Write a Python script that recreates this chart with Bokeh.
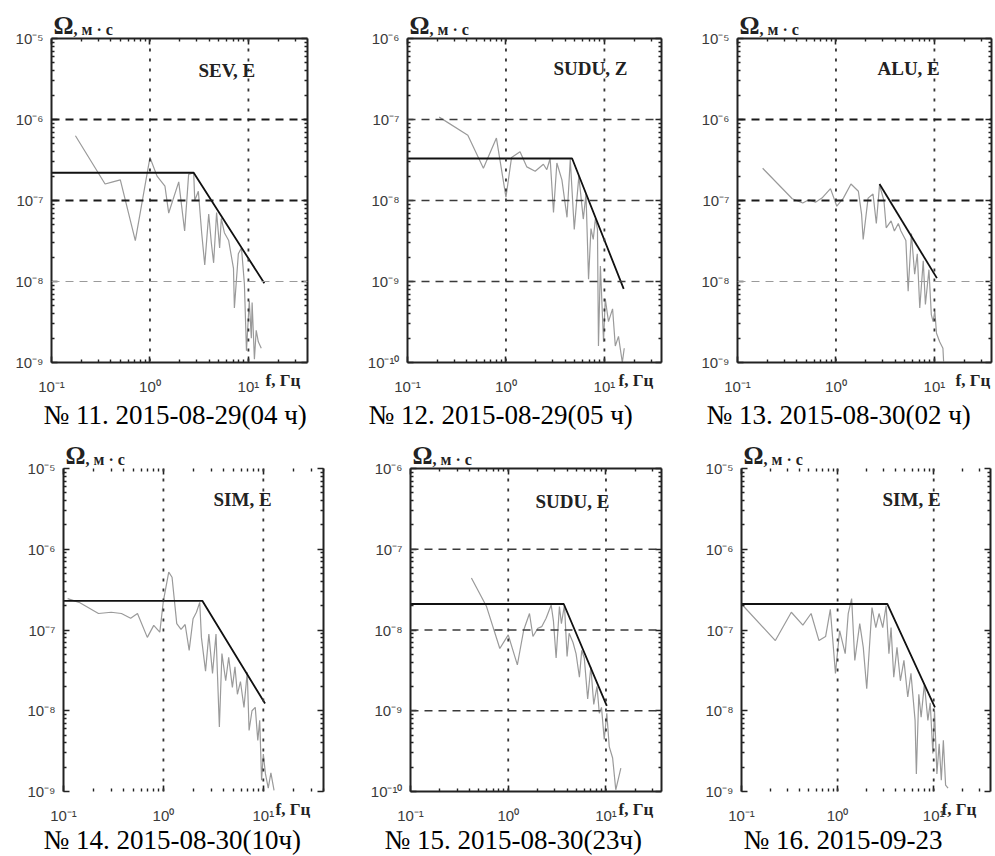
import math
from bokeh.plotting import figure
from bokeh.models import (LogAxis, FixedTicker, CustomJSTickFormatter, Span, Label, Range1d, Title)
from bokeh.layouts import row, column
from bokeh.embed import file_html
from bokeh.resources import INLINE

# ---------------- data ----------------
x_tick_values = [0.1, 1, 10]
x_tick_labels = ["10⁻¹", "10⁰", "10¹"]
y_tick_values_a = [1e-9, 1e-8, 1e-7, 1e-6, 1e-5]
y_tick_labels_a = ["10⁻⁹", "10⁻⁸", "10⁻⁷", "10⁻⁶", "10⁻⁵"]
y_tick_values_b = [1e-10, 1e-9, 1e-8, 1e-7, 1e-6]
y_tick_labels_b = ["10⁻¹⁰", "10⁻⁹", "10⁻⁸", "10⁻⁷", "10⁻⁶"]

stations = ["SEV, E", "SUDU, Z", "ALU, E", "SIM, E", "SUDU, E", "SIM, E"]
captions = ["№ 11. 2015-08-29(04 ч)", "№ 12. 2015-08-29(05 ч)", "№ 13. 2015-08-30(02 ч)",
            "№ 14. 2015-08-30(10ч)", "№ 15. 2015-08-30(23ч)", "№ 16. 2015-09-23"]
y_label_symbol = "Ω"
y_label_unit = ", м · с"
x_label = "f, Гц"

p11_f = [0.175, 0.35, 0.42, 0.50, 0.71, 1.0, 1.18, 1.42, 1.55, 1.96,
         2.25, 2.47, 2.78, 2.85, 3.1, 3.35, 3.6, 3.95, 4.2, 4.43,
         4.75, 5.1, 5.3, 5.7, 6.3, 7.05, 7.2, 7.9, 8.5, 9.1,
         9.55, 10.2, 10.7, 10.9, 11.5, 12.0, 12.6, 13.5]
p11_amp = [6.3e-7, 1.6e-7, 1.7e-7, 1.8e-7, 3.2e-8, 3.4e-7, 2.0e-7, 1.5e-7, 7e-8, 1.7e-7,
           4.2e-8, 2.1e-7, 2.2e-7, 1.0e-7, 1.3e-7, 4.0e-8, 1.6e-8, 6.8e-8, 3.0e-8, 1.7e-8,
           7.1e-8, 2.6e-8, 6.0e-8, 4.0e-8, 3.2e-8, 1.45e-8, 4.7e-9, 2.2e-8, 2.6e-8, 9.3e-9,
           1.4e-9, 5.8e-9, 2.0e-9, 5.5e-9, 1.1e-9, 2.5e-9, 1.8e-9, 1.5e-9]
p11_model_f = [0.1, 2.78, 14.5]
p11_model_amp = [2.2e-7, 2.2e-7, 9.5e-9]

p12_f = [0.21, 0.41, 0.59, 0.80, 1.0, 1.14, 1.39, 1.63, 1.98, 2.4,
         2.6, 2.81, 3.04, 3.29, 3.7, 4.17, 4.5, 4.94, 5.5, 6.1,
         6.5, 6.9, 7.3, 7.7, 8.1, 8.5, 8.7, 9.1, 9.8, 10.2,
         11.0, 12.1, 12.9, 13.9, 15.2, 15.9]
p12_amp = [1.07e-7, 6.4e-8, 2.5e-8, 5.9e-8, 1.1e-8, 3.4e-8, 4.0e-8, 2.6e-8, 2.3e-8, 2.8e-8,
           2.4e-8, 3.3e-8, 7.1e-9, 2.9e-8, 1.8e-8, 6.2e-9, 3.2e-8, 4.4e-9, 2.0e-8, 5.9e-9,
           1.2e-8, 1.07e-9, 4.5e-9, 3.3e-9, 6.0e-9, 4.4e-9, 1.6e-10, 1.55e-9, 1.8e-10, 6.1e-10,
           3.2e-10, 4.6e-10, 1.6e-10, 2.1e-10, 1.0e-10, 1.5e-10]
p12_model_f = [0.1, 4.7, 15.7]
p12_model_amp = [3.3e-8, 3.3e-8, 8.1e-10]

p13_f = [0.18, 0.36, 0.46, 0.53, 0.62, 0.72, 0.88, 1.02, 1.19, 1.42,
         1.69, 1.82, 1.89, 2.12, 2.38, 2.57, 2.77, 3.07, 3.24, 3.63,
         3.92, 4.3, 4.57, 5.13, 5.41, 5.84, 6.3, 6.7, 7.1, 7.7,
         8.1, 8.8, 9.3, 9.7, 10.1, 10.5, 11.3, 12.2, 12.4]
p13_amp = [2.5e-7, 1.05e-7, 9.3e-8, 1.02e-7, 9.5e-8, 1.07e-7, 1.4e-7, 8.5e-8, 1.07e-7, 1.6e-7,
           1.3e-7, 6.8e-8, 3.3e-8, 1.07e-7, 1.2e-7, 5.2e-8, 1.55e-7, 1.0e-7, 4.6e-8, 5.6e-8,
           4.2e-8, 5.2e-8, 4.2e-8, 3.2e-8, 7.6e-9, 3.9e-8, 1.23e-8, 2.2e-8, 4.7e-9, 1.8e-8,
           5.2e-9, 1.4e-8, 3.9e-9, 3.2e-9, 4.3e-9, 2.3e-9, 1.8e-9, 1.5e-9, 1.03e-9]
p13_model_f = [2.77, 10.6]
p13_model_amp = [1.6e-7, 1.1e-8]

p14_f = [0.11, 0.143, 0.224, 0.30, 0.38, 0.47, 0.55, 0.69, 0.80, 0.92,
         1.0, 1.13, 1.22, 1.36, 1.5, 1.65, 1.81, 1.98, 2.14, 2.31,
         2.4, 2.64, 2.85, 3.1, 3.36, 3.63, 3.85, 4.2, 4.5, 4.9,
         5.2, 5.5, 5.9, 6.4, 6.9, 7.2, 7.7, 8.3, 8.8, 9.2,
         9.6, 10.0, 10.5, 11.2, 11.9, 12.8]
p14_amp = [2.45e-7, 2.2e-7, 1.6e-7, 1.66e-7, 1.6e-7, 1.4e-7, 1.6e-7, 8.1e-8, 1.14e-7, 9.4e-8,
           2.3e-7, 5.2e-7, 4.5e-7, 1.2e-7, 1.02e-7, 1.17e-7, 5.6e-8, 1.38e-7, 1.66e-7, 2.2e-7,
           8.1e-8, 3.1e-8, 8.9e-8, 2.9e-8, 8.9e-8, 6.3e-9, 5.1e-8, 2.35e-8, 4.6e-8, 1.95e-8,
           3.5e-8, 1.6e-8, 2.3e-8, 1.1e-8, 3.0e-8, 5.7e-9, 1.0e-8, 1.1e-8, 4.3e-9, 7.6e-9,
           1.38e-9, 2.9e-9, 1.65e-9, 1.1e-9, 1.7e-9, 1.03e-9]
p14_model_f = [0.1, 2.45, 10.4]
p14_model_amp = [2.3e-7, 2.3e-7, 1.23e-8]

p15_f = [0.42, 0.60, 0.82, 1.0, 1.24, 1.44, 1.65, 1.79, 2.01, 2.2,
         2.44, 2.75, 2.9, 3.09, 3.34, 3.5, 3.76, 4.0, 4.2, 4.6,
         4.94, 5.35, 5.65, 6.0, 6.5, 7.0, 7.5, 8.1, 8.55, 9.0,
         9.6, 10.2, 10.8, 11.7, 12.6, 14.2]
p15_amp = [4.4e-8, 1.95e-8, 5.9e-9, 8.7e-9, 3.7e-9, 1e-8, 1.6e-8, 8.3e-9, 1.05e-8, 1.1e-8,
           1.4e-8, 2.04e-8, 1.3e-8, 4.5e-9, 1.95e-8, 1.2e-8, 2.04e-8, 4.7e-9, 9.1e-9, 7e-9,
           5.1e-9, 2.6e-9, 5.6e-9, 4.5e-9, 1.4e-9, 3.5e-9, 1.2e-9, 2e-9, 9.3e-10, 1.1e-9,
           4.4e-10, 9.3e-10, 3.6e-10, 2.6e-10, 1.05e-10, 1.95e-10]
p15_model_f = [0.1, 3.7, 10.2]
p15_model_amp = [2.1e-8, 2.1e-8, 1.15e-9]

p16_f = [0.1, 0.225, 0.33, 0.435, 0.53, 0.64, 0.75, 0.84, 0.95, 1.05,
         1.2, 1.29, 1.4, 1.51, 1.7, 1.85, 2.01, 2.28, 2.5, 2.7,
         2.95, 3.2, 3.42, 3.6, 3.84, 4.15, 4.5, 4.9, 5.37, 5.8,
         6.4, 6.6, 7.0, 7.4, 8.0, 8.7, 9.2, 9.8, 10.2, 10.8,
         11.4, 12.0, 12.6, 13.3, 14.1]
p16_amp = [2.1e-7, 7.4e-8, 1.66e-7, 1.15e-7, 1.6e-7, 7.4e-8, 8.3e-8, 1.8e-7, 2.9e-8, 9.8e-8,
           5.1e-8, 1.6e-7, 2.45e-7, 4.2e-8, 1.2e-7, 6.1e-8, 1.87e-8, 1.9e-7, 1.07e-7, 1.6e-7,
           1.07e-7, 2.0e-7, 5.1e-8, 1.07e-7, 2.6e-8, 6.1e-8, 2.35e-8, 4.2e-8, 1.48e-8, 2.9e-8,
           7.6e-9, 1.65e-9, 1.6e-8, 8.3e-9, 2.15e-8, 7.6e-9, 1.25e-8, 2.95e-9, 1.0e-8, 1.65e-9,
           3.9e-9, 1.38e-9, 4.3e-9, 1.2e-9, 1.1e-9]
p16_model_f = [0.1, 3.29, 10.3]
p16_model_amp = [2.1e-7, 2.1e-7, 1.1e-8]

# ---------------- layout / style (not data) ----------------
SERIF = "Liberation Serif"
SANS = "Liberation Sans"
DARK_DASH = ("#1a1a1a", 2.0, "8 6")
LIGHT_DASH = ("#9a9a9a", 1.2, "8 6")
MID_DASH = ("#3a3a3a", 1.6, "8 6")

R1 = dict(h=437, bt=38, bb=75, cap_s=4)
R2 = dict(h=419, bt=31, bb=65, cap_s=-4)

cfgs = [
    dict(R1, w=357, bl=51, br=50, xmax=39.8, ylab="a",
         hgrid=[(1e-6, DARK_DASH), (1e-7, DARK_DASH), (1e-8, LIGHT_DASH)], edges=True,
         st_dx=147, st_dy=-32, fx=214, cap_dx=-8),
    dict(R1, w=338, bl=50, br=34, xmax=38.0, ylab="b",
         hgrid=[(1e-7, MID_DASH), (1e-8, MID_DASH), (1e-9, MID_DASH)], edges=True,
         st_dx=146, st_dy=-30, fx=211, cap_dx=-39),
    dict(R1, w=299, bl=42, br=3, xmax=38.0, ylab="a",
         hgrid=[(1e-6, DARK_DASH), (1e-7, DARK_DASH), (1e-8, LIGHT_DASH)], edges=True,
         st_dx=140, st_dy=-30, fx=218, cap_dx=-31),
    dict(R2, w=365, bl=63, br=42, xmax=40.0, ylab="a",
         hgrid=[], edges=False,
         st_dx=150, st_dy=-31, fx=212, cap_dx=-20),
    dict(R2, w=335, bl=45, br=39, xmax=37.0, ylab="b",
         hgrid=[(1e-7, MID_DASH), (1e-8, MID_DASH), (1e-9, MID_DASH)], edges=True,
         st_dx=125, st_dy=-33, fx=208, cap_dx=-26),
    dict(R2, w=294, bl=41, br=4, xmax=39.0, ylab="a",
         hgrid=[], edges=False,
         st_dx=141, st_dy=-31, fx=200, cap_dx=2),
]

panels = [
    (p11_f, p11_amp, p11_model_f, p11_model_amp),
    (p12_f, p12_amp, p12_model_f, p12_model_amp),
    (p13_f, p13_amp, p13_model_f, p13_model_amp),
    (p14_f, p14_amp, p14_model_f, p14_model_amp),
    (p15_f, p15_amp, p15_model_f, p15_model_amp),
    (p16_f, p16_amp, p16_model_f, p16_model_amp),
]


def log_ticks(lo, hi):
    k0 = int(round(math.log10(lo)))
    k1 = int(round(math.log10(hi)))
    major = [10.0 ** k for k in range(k0, k1 + 1) if lo * 0.999 <= 10.0 ** k <= hi * 1.001]
    minor = [m * 10.0 ** k for k in range(k0 - 1, k1 + 1) for m in range(2, 10)
             if lo <= m * 10.0 ** k <= hi]
    return major, minor


def fmt(vals, labels):
    return CustomJSTickFormatter(args=dict(vals=list(vals), labels=list(labels)), code="""
const i = vals.findIndex(v => Math.abs(Math.log10(v) - Math.log10(tick)) < 1e-6);
return i < 0 ? "" : labels[i];
""")


def blank():
    return CustomJSTickFormatter(code='return "";')


def style_axis(ax, ticks, formatter, line=True, font_size="15px", standoff=8):
    major, minor = ticks
    ax.ticker = FixedTicker(ticks=major, minor_ticks=minor)
    ax.formatter = formatter
    ax.major_tick_in = 6
    ax.major_tick_out = 0
    ax.minor_tick_in = 3
    ax.minor_tick_out = 0
    ax.major_tick_line_color = "#222222"
    ax.minor_tick_line_color = "#222222"
    ax.major_tick_line_width = 1.6
    ax.minor_tick_line_width = 1.4
    ax.axis_line_color = "#222222" if line else None
    ax.axis_line_width = 2
    ax.major_label_text_font = SANS
    ax.major_label_text_font_size = font_size
    ax.major_label_text_color = "#3a3a3a"
    ax.major_label_standoff = standoff


def make_panel(idx):
    c = cfgs[idx]
    f, amp, mf, mamp = panels[idx]
    if c["ylab"] == "a":
        yv, yl = y_tick_values_a, y_tick_labels_a
    else:
        yv, yl = y_tick_values_b, y_tick_labels_b
    ylo, yhi = min(yv), max(yv)
    xlo, xhi = min(x_tick_values), c["xmax"]

    p = figure(width=c["w"], height=c["h"], x_axis_type="log", y_axis_type="log",
               x_range=Range1d(xlo, xhi), y_range=Range1d(ylo, yhi),
               output_backend="svg", toolbar_location=None,
               min_border_left=c["bl"], min_border_right=c["br"],
               min_border_top=c["bt"], min_border_bottom=c["bb"])
    p.outline_line_color = None
    p.background_fill_color = "white"
    p.border_fill_color = "white"
    p.xgrid.visible = False
    p.ygrid.visible = False

    xt = log_ticks(xlo, xhi)
    yt = log_ticks(ylo, yhi)
    style_axis(p.xaxis[0], xt, fmt(x_tick_values, x_tick_labels), line=c["edges"], standoff=15)
    style_axis(p.yaxis[0], yt, fmt(yv, yl), line=True, standoff=8)
    ax_r = LogAxis()
    p.add_layout(ax_r, "right")
    style_axis(ax_r, yt, blank(), line=True, font_size="1px", standoff=0)
    ax_t = LogAxis()
    p.add_layout(ax_t, "above")
    style_axis(ax_t, xt, blank(), line=c["edges"], font_size="1px", standoff=0)

    # grid lines
    for xv in x_tick_values:
        if xlo < xv < xhi:
            p.add_layout(Span(location=xv, dimension="height", line_color="#333333",
                              line_width=1.8, line_dash="3 7"))
    for yv_, (col, lw, dash) in c["hgrid"]:
        p.add_layout(Span(location=yv_, dimension="width", line_color=col,
                          line_width=lw, line_dash=dash))

    p.line(f, amp, line_color="#9a9a9a", line_width=1.2)
    p.line(mf, mamp, line_color="#111111", line_width=1.8)

    # station label inside the frame
    p.add_layout(Label(x=xlo, y=yhi, x_offset=c["st_dx"], y_offset=c["st_dy"],
                       text=stations[idx], text_font=SERIF, text_font_style="bold",
                       text_font_size="19px", text_baseline="alphabetic", text_align="left",
                       text_color="#222222"))
    # texts in the side panels
    p.add_layout(Title(text=y_label_symbol, align="left", offset=2, standoff=0,
                       vertical_align="bottom", text_font=SERIF, text_font_style="bold",
                       text_font_size="25px", text_color="#222222"), "above")
    p.add_layout(Title(text=y_label_unit, align="left", offset=22, standoff=-57,
                       vertical_align="bottom", text_font=SERIF, text_font_style="bold",
                       text_font_size="16px", text_color="#222222"), "above")
    p.add_layout(Title(text=x_label, align="left", offset=c["fx"], standoff=-53,
                       vertical_align="top", text_font=SERIF, text_font_style="bold",
                       text_font_size="17px", text_color="#222222"), "below")
    p.add_layout(Title(text=captions[idx], align="left", offset=c["cap_dx"], standoff=c["cap_s"],
                       vertical_align="top", text_font=SERIF, text_font_style="normal",
                       text_font_size="27px", text_color="#000000"), "below")
    return p


figs = [make_panel(i) for i in range(6)]
layout = column(row(figs[0], figs[1], figs[2]), row(figs[3], figs[4], figs[5]))

open("out.html", "w").write(file_html(layout, INLINE))
